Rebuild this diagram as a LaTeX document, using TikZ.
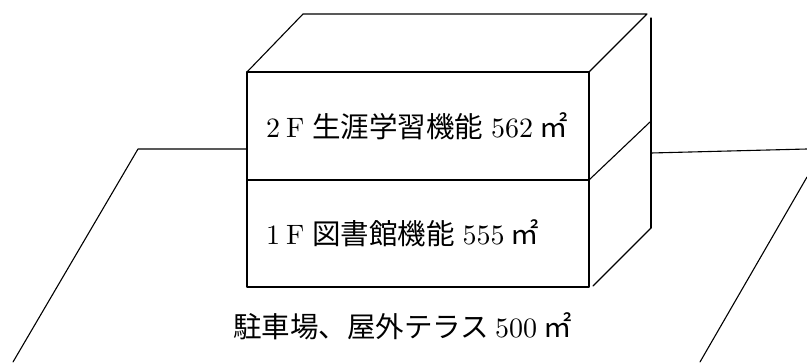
\documentclass[tikz,border=0pt]{standalone}
\usepackage{fontspec}
% one fixed optical size, so large digits keep their normal width
\setmainfont{lmroman10-regular.otf}
\newfontfamily\jp{Noto Sans CJK JP}
% Japanese runs set slightly larger than the Latin default
\newcommand{\jpt}[1]{{\jp\fontsize{28.5}{32}\selectfont #1}}
\begin{document}
\begin{tikzpicture}[x=1pt, y=-1pt,
  edge/.style={draw=black, line width=1.1pt, line cap=round, line join=round},
  floorlabel/.style={anchor=base west, inner sep=0pt, font=\fontsize{28}{32}\selectfont}]
\useasboundingbox (0,0) rectangle (807,362);

% building corners
\coordinate (btl) at (303,14);
\coordinate (btr) at (647,14);
\coordinate (ftl) at (247,72);
\coordinate (ftr) at (589,72);
\coordinate (fml) at (247,180);
\coordinate (fmr) at (589,180);
\coordinate (fbl) at (247,287);
\coordinate (fbr) at (589,287);
\coordinate (rtop) at (651,18);
\coordinate (rmid) at (650,122);
\coordinate (rbot) at (651,228);
\coordinate (fbr2) at (593,286);

% site outline
\coordinate (gl1) at (247,149);
\coordinate (gl2) at (138,149);
\coordinate (gl3) at (13,362);
\coordinate (gr1) at (651,153);
\coordinate (gr2) at (807,149);
\coordinate (gr3) at (807,177);
\coordinate (gr4) at (700,362);

% roof
\draw[edge] (ftl) -- (btl) -- (btr) -- (ftr) -- cycle;
% front face and floor division
\draw[edge] (ftl) rectangle (fbr);
\draw[edge] (fml) -- (fmr);
% side face
\draw[edge] (rtop) -- (rbot);
\draw[edge] (fmr) -- (rmid);
\draw[edge] (fbr2) -- (rbot);

% ground
\draw[edge] (gl1) -- (gl2) -- (gl3);
\draw[edge] (gr1) -- (gr2);
\draw[edge] (gr3) -- (gr4);

% labels
\node[floorlabel] (f2) at (266,137)
  {\makebox[20pt][l]{2}\makebox[26pt][l]{F}\jpt{生涯学習機能}\hspace{8pt}562\hspace{6pt}\jpt{㎡}};
\node[floorlabel] (f1) at (266,244)
  {\makebox[20pt][l]{1}\makebox[26pt][l]{F}\jpt{図書館機能}\hspace{8pt}555\hspace{6pt}\jpt{㎡}};
\node[floorlabel] (site) at (233,337)
  {\jpt{駐車場、屋外テラス}\hspace{6pt}500\hspace{6pt}\jpt{㎡}};
\end{tikzpicture}
\end{document}
